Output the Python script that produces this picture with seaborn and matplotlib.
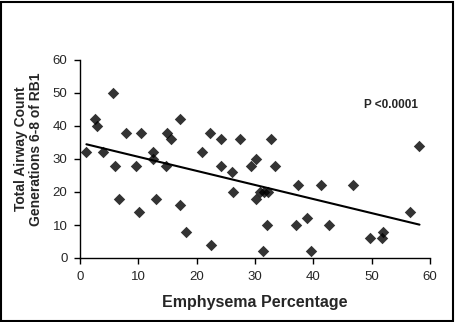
import numpy as np
import pandas as pd
import seaborn as sns
import matplotlib.pyplot as plt
from matplotlib.patches import Rectangle

sns.set_style("white")
plt.rcParams['font.family'] = ['Liberation Sans', 'DejaVu Sans']

# values
emphysema = [1.1, 2.5, 3.0, 4.0, 5.6, 6.0, 6.7, 7.9, 9.6, 10.1, 10.4, 12.6, 12.5, 13.1,
             14.7, 15.0, 15.6, 17.1, 17.1, 18.2, 20.9, 22.3, 22.4, 24.2, 24.1, 26.1,
             26.3, 27.4, 29.4, 30.2, 30.1, 30.9, 31.5, 32.3, 31.3, 32.8, 33.4, 32.0,
             37.4, 41.4, 46.8, 37.0, 38.9, 42.7, 39.6, 49.7, 51.8, 52.0, 56.6, 58.2]
airways = [32, 42, 40, 32, 50, 28, 18, 38, 28, 14, 38, 32, 30, 18,
           28, 38, 36, 42, 16, 8, 32, 38, 4, 36, 28, 26,
           20, 36, 28, 30, 18, 20, 20, 20, 2, 36, 28, 10,
           22, 22, 22, 10, 12, 10, 2, 6, 6, 8, 14, 34]
p_text = "P <0.0001"

df = pd.DataFrame({"Emphysema": emphysema, "Airways": airways})

fig = plt.figure(figsize=(4.56, 3.22), dpi=100)
ax = fig.add_axes([80 / 456, 64 / 322, 350 / 456, 198 / 322])

sns.regplot(data=df, x="Emphysema", y="Airways", ax=ax, ci=None,
            marker="D", color="black",
            scatter_kws={"s": 34, "linewidths": 0},
            line_kws={"linewidth": 1.5})

ax.set_xlim(0, 60)
ax.set_ylim(0, 60)
ax.set_xticks(range(0, 61, 10))
ax.set_yticks(range(0, 61, 10))
ax.tick_params(axis="both", direction="out", length=4, width=1, color="black",
               labelsize=9.5, bottom=True, left=True, pad=5)
for s in ["top", "right"]:
    ax.spines[s].set_visible(False)
for s in ["left", "bottom"]:
    ax.spines[s].set_color("black")
    ax.spines[s].set_linewidth(1)

ax.set_xlabel("Emphysema Percentage", fontsize=11.5, fontweight="bold", labelpad=9)
ax.set_ylabel("Total Airway Count\nGenerations 6-8 of RB1", fontsize=10,
              fontweight="bold", linespacing=1.1)
ax.yaxis.set_label_coords(-0.105, 0.55)
ax.text(48.7, 46.4, p_text, fontsize=8.5, fontweight="bold", va="center")

# outer frame of the chart area
fig.patches.append(Rectangle((0.003, 0.004), 0.991, 0.99, transform=fig.transFigure,
                             fill=False, edgecolor="black", linewidth=1.5))

fig.savefig("out.png", dpi=100)
